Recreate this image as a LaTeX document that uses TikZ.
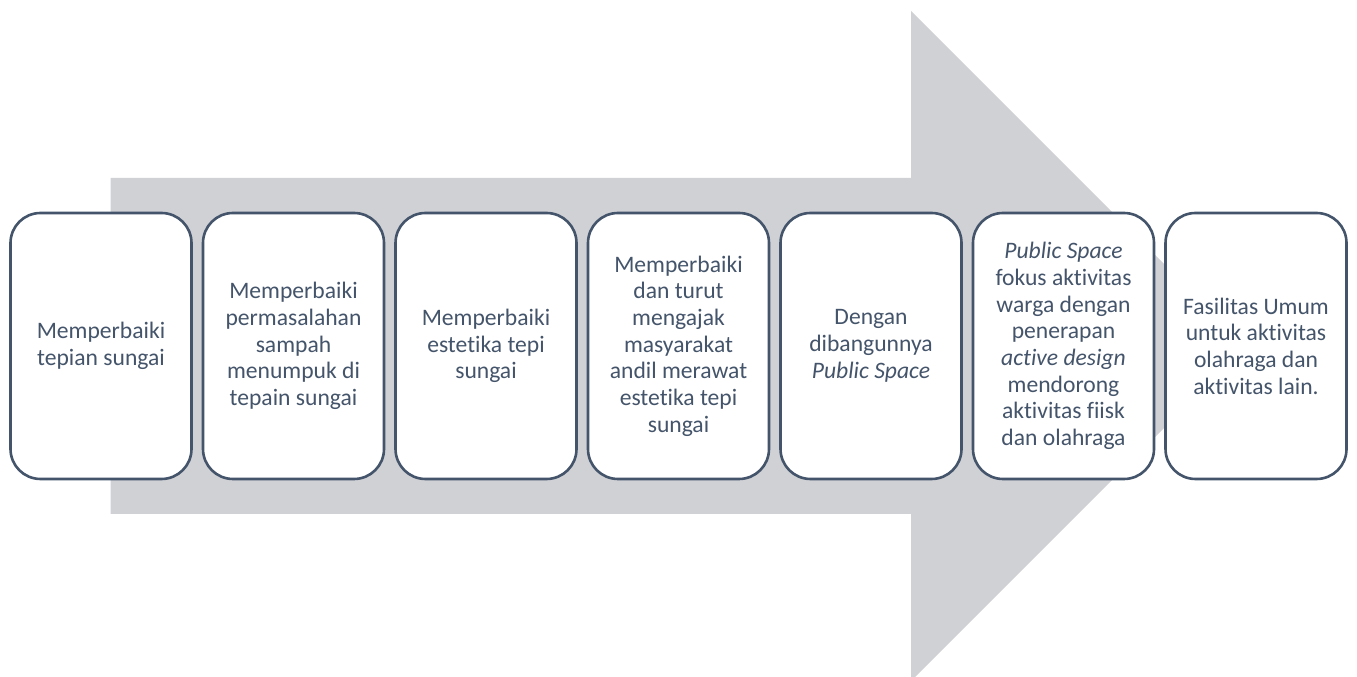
\documentclass[tikz,border=0pt]{standalone}
\usepackage{fontspec}
\setmainfont[RawFeature={-liga;-clig;-calt;-dlig}]{Carlito}
\definecolor{arrowgray}{HTML}{D0D1D5}
\definecolor{slate}{HTML}{44546A}
\begin{document}
\begin{tikzpicture}[x=1pt,y=1pt,
  stepbox/.style={draw=slate, line width=2.6pt, fill=white, rounded corners=30pt,
    minimum width=181pt, minimum height=266pt, inner sep=0pt,
    align=center, text=slate, font=\fontsize{23.6}{26.7}\selectfont}]
\useasboundingbox (0,0) rectangle (1357,677);
\clip (0,0) rectangle (1357,677);
% big arrow (y measured from bottom: y = 677 - pixel y)
\fill[arrowgray] (110.5,163) -- (110.5,499) -- (911,499) -- (911,666) -- (1246,331)
  -- (911,-4) -- (911,163) -- cycle;
\def\yc{331}
\node[stepbox] (b1) at (101,\yc) {Memperbaiki\\tepian sungai};
\node[stepbox] (b2) at (293.5,\yc) {Memperbaiki\\permasalahan\\sampah\\menumpuk di\\tepain sungai};
\node[stepbox] (b3) at (486,\yc) {Memperbaiki\\estetika tepi\\sungai};
\node[stepbox] (b4) at (678.5,\yc) {Memperbaiki\\dan turut\\mengajak\\masyarakat\\andil merawat\\estetika tepi\\sungai};
\node[stepbox] (b5) at (871,\yc) {Dengan\\dibangunnya\\\textit{Public Space}};
\node[stepbox] (b6) at (1063.5,\yc) {\textit{Public Space}\\fokus aktivitas\\warga dengan\\penerapan\\\textit{active design}\\mendorong\\aktivitas fiisk\\dan olahraga};
\node[stepbox] (b7) at (1256,\yc) {Fasilitas Umum\\untuk aktivitas\\olahraga dan\\aktivitas lain.};
\end{tikzpicture}
\end{document}
